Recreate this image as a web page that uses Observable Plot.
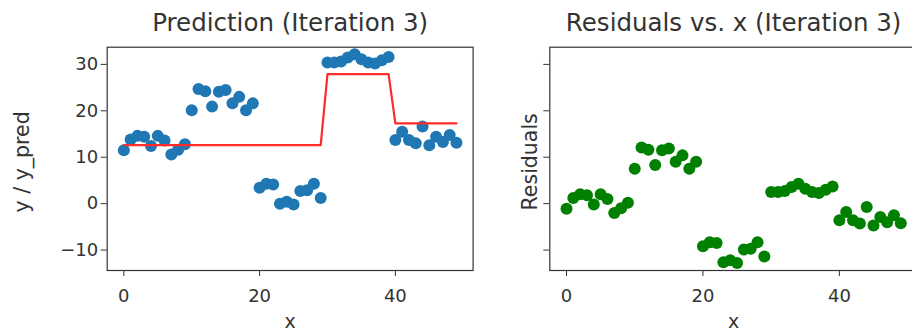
<!DOCTYPE html>
<html>
<head>
<meta charset="utf-8">
<script src="https://cdn.jsdelivr.net/npm/d3@7"></script>
<script src="https://cdn.jsdelivr.net/npm/@observablehq/plot@0.6"></script>
<style>
  html, body { margin: 0; padding: 0; background: #ffffff; }
  #wrap { position: relative; width: 912px; height: 335px; overflow: hidden; background: #fff; }
  #wrap svg { position: absolute; top: 0; overflow: visible; }
</style>
</head>
<body>
<div id="wrap"></div>
<script>
// ---- data ----
const xs = [0,1,2,3,4,5,6,7,8,9,10,11,12,13,14,15,16,17,18,19,20,21,22,23,24,25,26,27,28,29,30,31,32,33,34,35,36,37,38,39,40,41,42,43,44,45,46,47,48,49];
const yValues = [11.5,13.8,14.6,14.4,12.4,14.6,13.6,10.6,11.6,12.8,
                 20.1,24.7,24.2,20.9,24.1,24.5,21.6,23.0,20.1,21.6,
                 3.4,4.3,4.1,0.0,0.4,-0.2,2.7,2.9,4.3,1.2,
                 30.4,30.4,30.6,31.5,32.2,31.1,30.4,30.2,30.9,31.6,
                 13.7,15.5,13.7,13.0,16.6,12.6,14.4,13.3,14.8,13.1];
const yPred = [12.6,12.6,12.6,12.6,12.6,12.6,12.6,12.6,12.6,12.6,
               12.6,12.6,12.6,12.6,12.6,12.6,12.6,12.6,12.6,12.6,
               12.6,12.6,12.6,12.6,12.6,12.6,12.6,12.6,12.6,12.6,
               27.9,27.9,27.9,27.9,27.9,27.9,27.9,27.9,27.9,27.9,
               17.3,17.3,17.3,17.3,17.3,17.3,17.3,17.3,17.3,17.3];
const xTicks = [0, 20, 40];
const yTicks = [-10, 0, 10, 20, 30];
const titles = ["Prediction (Iteration 3)", "Residuals vs. x (Iteration 3)"];
const xLabel = "x";
const yLabels = ["y / y_pred", "Residuals"];

const rows = xs.map((x, i) => ({x, y: yValues[i], pred: yPred[i], res: yValues[i] - yPred[i]}));

const FONT = "DejaVu Sans, sans-serif";
const INK = "#333";
const xDomain = [-2.45, 51.45];
const yDomain = [-14.4, 33.7];

function panel({width, ml, mr, title, ylab, showYLabels, marks}) {
  return Plot.plot({
    width, height: 335,
    marginLeft: ml, marginRight: mr, marginTop: 46.7, marginBottom: 65,
    style: {fontFamily: FONT, fontSize: "18px", color: INK, background: "transparent"},
    x: {domain: xDomain, axis: null},
    y: {domain: yDomain, axis: null},
    marks: [
      ...marks,
      Plot.frame({stroke: INK, strokeWidth: 1.2}),
      Plot.axisX(xTicks, {tickSize: 6, tickPadding: 13, fontSize: 18, stroke: INK, fill: INK, label: null}),
      Plot.axisY(yTicks, {tickSize: 6, tickPadding: 3, fontSize: 18, stroke: INK, fill: INK, label: null,
        tickFormat: showYLabels ? (d => d < 0 ? "\u2212" + Math.abs(d) : String(d)) : () => ""}),
      Plot.text([title], {frameAnchor: "top", lineAnchor: "top", dy: -34, fontSize: 24.5, fill: INK}),
      Plot.text([xLabel], {frameAnchor: "bottom", lineAnchor: "middle", dy: 51, fontSize: 19, fill: INK}),
      Plot.text([ylab], {frameAnchor: "left", textAnchor: "middle", lineAnchor: "middle",
        dx: showYLabels ? -85 : -19, dy: 3, rotate: -90, fontSize: 20.5, fill: INK})
    ]
  });
}

const left = panel({
  width: 480, ml: 106.7, mr: 7.4, title: titles[0], ylab: yLabels[0], showYLabels: true,
  marks: [
    Plot.dot(rows, {x: "x", y: "y", r: 6, fill: "#1f77b4", stroke: "none"}),
    Plot.line(rows, {x: "x", y: "pred", stroke: "#ff2a2a", strokeWidth: 2.2})
  ]
});
left.style.left = "0px";

const right = panel({
  width: 440, ml: 59.3, mr: 13, title: titles[1], ylab: yLabels[1], showYLabels: false,
  marks: [
    Plot.dot(rows, {x: "x", y: "res", r: 6, fill: "#008000", stroke: "none"})
  ]
});
right.style.left = "490px";

const wrap = document.getElementById("wrap");
wrap.appendChild(left);
wrap.appendChild(right);
</script>
</body>
</html>
